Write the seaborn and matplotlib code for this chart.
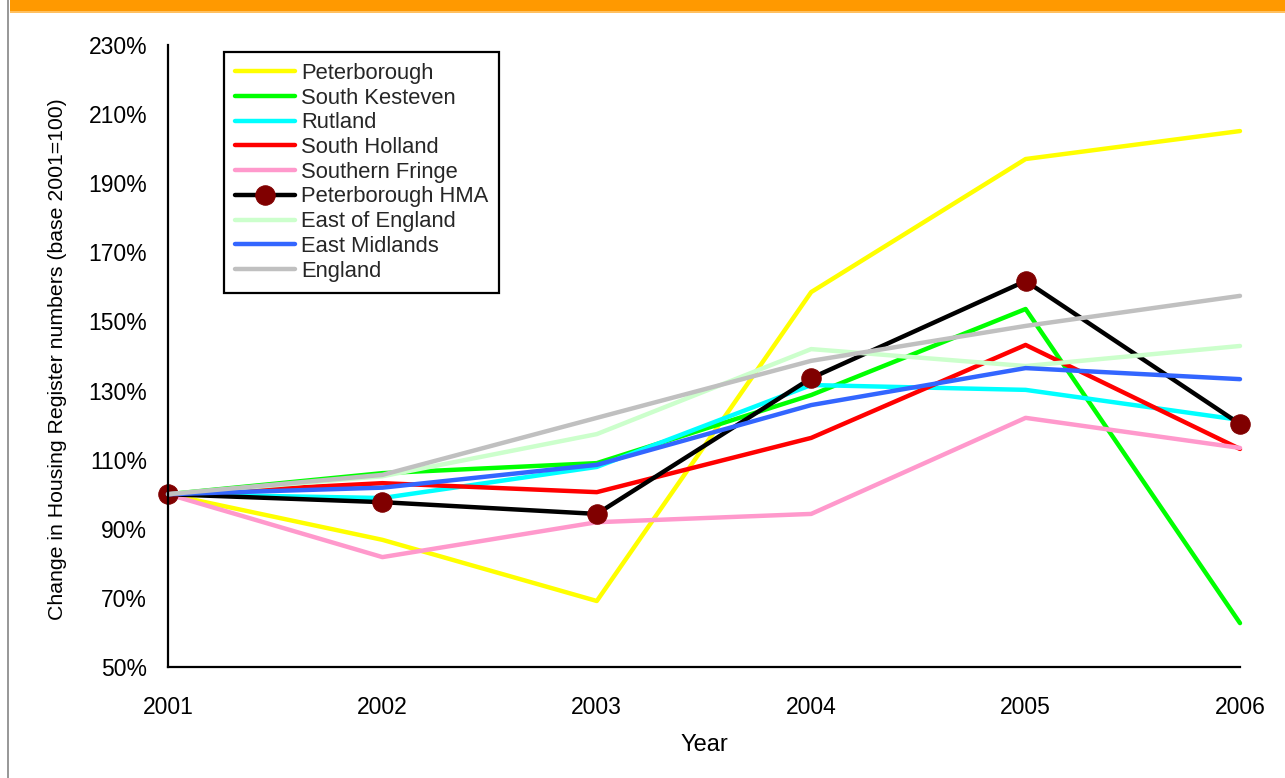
import matplotlib
matplotlib.use("Agg")
import matplotlib.pyplot as plt
from matplotlib import font_manager
from matplotlib.patches import Rectangle
from matplotlib.ticker import FuncFormatter
import seaborn as sns
import pandas as pd

# Housing register numbers indexed to 2001 = 100
years = [2001, 2002, 2003, 2004, 2005, 2006]
peterborough = [100, 86.8, 69.1, 158.5, 197.0, 205.1]
south_kesteven = [100, 106.1, 109.0, 128.7, 153.6, 62.7]
rutland = [100, 98.9, 107.9, 131.6, 130.2, 121.5]
south_holland = [100, 103.2, 100.6, 116.3, 143.2, 113.1]
southern_fringe = [100, 81.8, 91.9, 94.3, 122.1, 113.4]
peterborough_hma = [100, 97.7, 94.3, 133.6, 161.7, 120.3]
east_of_england = [100, 105.2, 117.4, 142.0, 137.1, 142.9]
east_midlands = [100, 101.9, 108.5, 125.8, 136.5, 133.3]
england = [100, 105.6, 122.1, 138.6, 148.7, 157.4]

series_names = ["Peterborough", "South Kesteven", "Rutland", "South Holland",
                "Southern Fringe", "Peterborough HMA", "East of England",
                "East Midlands", "England"]
series_values = [peterborough, south_kesteven, rutland, south_holland,
                 southern_fringe, peterborough_hma, east_of_england,
                 east_midlands, england]
colors = ["#FFFF00", "#00FF00", "#00FFFF", "#FF0000", "#FF99CC",
          "#000000", "#CCFFCC", "#3366FF", "#C0C0C0"]
y_ticks = [50, 70, 90, 110, 130, 150, 170, 190, 210, 230]

sns.set_style("white")


def pick_family():
    for fam in ["Liberation Sans Narrow", "Arial Narrow", "Liberation Sans"]:
        try:
            font_manager.findfont(fam, fallback_to_default=False)
            return fam
        except Exception:
            continue
    return "DejaVu Sans"


family = pick_family()
plt.rcParams["font.family"] = [family, "DejaVu Sans"]

fig = plt.figure(figsize=(12.85, 7.78), dpi=100)
ax = fig.add_axes([168 / 1285, 1 - 667 / 778, (1240 - 168) / 1285, (667 - 45) / 778])

# page decoration: orange header band and grey left rule
fig.add_artist(Rectangle((10 / 1285, 1 - 11 / 778), 1, 11 / 778,
                         transform=fig.transFigure, color="#FF9900", lw=0))
fig.add_artist(Rectangle((10 / 1285, 1 - 13 / 778), 1, 2 / 778,
                         transform=fig.transFigure, color="#FFC060", lw=0))
fig.add_artist(Rectangle((7 / 1285, 0), 2 / 1285, 1,
                         transform=fig.transFigure, color="#999999", lw=0))

for name, vals, col in zip(series_names, series_values, colors):
    df = pd.DataFrame({"Year": years, "Value": vals})
    if name == "Peterborough HMA":
        sns.lineplot(data=df, x="Year", y="Value", ax=ax, color=col, lw=3.2,
                     marker="o", markersize=14, markerfacecolor="#800000",
                     markeredgecolor="#800000", label=name, clip_on=False)
    else:
        sns.lineplot(data=df, x="Year", y="Value", ax=ax, color=col, lw=3.2,
                     label=name, clip_on=False)

ax.set_xlim(2001, 2006)
ax.set_ylim(50, 230)
ax.set_xticks(years)
ax.set_xticklabels([str(y) for y in years])
ax.set_yticks(y_ticks)
ax.yaxis.set_major_formatter(FuncFormatter(lambda v, p: f"{int(v)}%"))

for s in ["top", "right"]:
    ax.spines[s].set_visible(False)
for s in ["left", "bottom"]:
    ax.spines[s].set_color("black")
    ax.spines[s].set_linewidth(1.6)

ax.tick_params(axis="both", direction="out", length=6, width=1.6,
               color="black", labelsize=16.5, labelcolor="black")
ax.tick_params(axis="y", pad=9)
ax.tick_params(axis="x", pad=15)

ax.set_xlabel("Year", fontsize=17, color="black")
ax.set_ylabel("Change in Housing Register numbers (base 2001=100)",
              fontsize=15.3, color="black")
ax.xaxis.set_label_coords(0.5, -0.108)
ax.yaxis.set_label_coords(-0.094, 0.495)

leg = ax.legend(loc="upper left", bbox_to_anchor=(0.052, 0.989),
                borderaxespad=0, frameon=True, fancybox=False, shadow=False,
                fontsize=15.8, handlelength=2.75, handletextpad=0.27,
                labelspacing=0.17, borderpad=0.5)
leg.get_frame().set_edgecolor("black")
leg.get_frame().set_linewidth(1.6)
leg.get_frame().set_facecolor("white")
leg.get_frame().set_alpha(1)

fig.savefig("out.png", dpi=100)
